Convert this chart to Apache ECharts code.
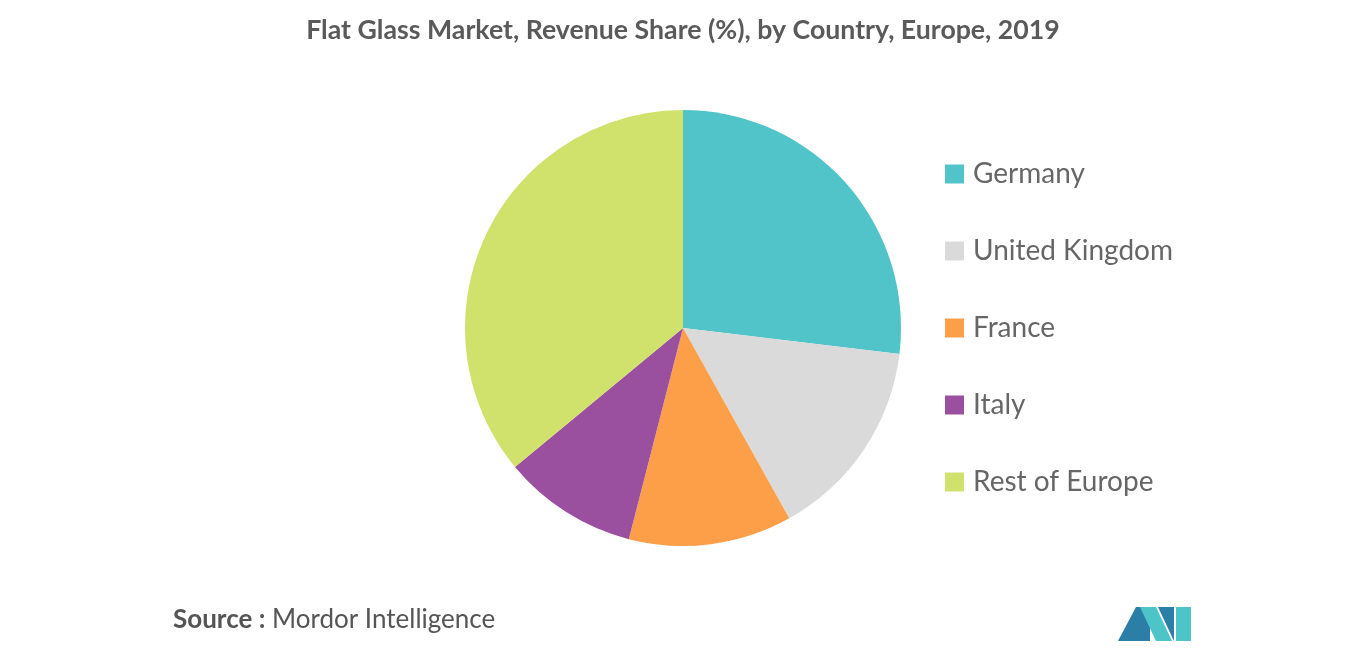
<!DOCTYPE html>
<html>
<head>
<meta charset="utf-8">
<script src="https://cdn.jsdelivr.net/npm/echarts@6/dist/echarts.min.js"></script>
<style>html,body{margin:0;padding:0;background:#fff}#container{width:1366px;height:655px}</style>
</head>
<body>
<div id="container"></div>
<script>
var countries = ["Germany", "United Kingdom", "France", "Italy", "Rest of Europe"];
var shares = [26.9, 15.0, 12.1, 10.0, 36.0];
var colors = ["#50c4c9", "#dadada", "#fc9f48", "#9b4f9f", "#d0e16c"];

var myChart = echarts.init(document.getElementById("container"));
var option = {
  animation: false,
  color: colors,
  title: {
    text: "Flat Glass Market, Revenue Share (%), by Country, Europe, 2019",
    left: "center", top: 12,
    textStyle: {fontFamily: "Lato", fontSize: 26.7, fontWeight: "bold", color: "#5a5a5a"}
  },
  legend: {
    orient: "vertical", left: 940, top: 155,
    itemWidth: 19, itemHeight: 19, itemGap: 49,
    icon: "rect",
    textStyle: {fontFamily: "Lato", fontSize: 28, color: "#666", padding: [0, 0, 0, 4]},
    data: countries
  },
  series: [{
    type: "pie",
    center: [683, 328], radius: 218,
    startAngle: 90, clockwise: true,
    label: {show: false}, labelLine: {show: false},
    itemStyle: {borderColor: "#fff", borderWidth: 0},
    data: countries.map(function (c, i) { return {name: c, value: shares[i]}; })
  }],
  graphic: [
    {type: "text", left: 173, top: 607, style: {
      text: "{b|Source :} Mordor Intelligence",
      rich: {b: {fontWeight: "bold", fontFamily: "Lato", fontSize: 26, fill: "#555"}},
      fontFamily: "Lato", fontSize: 26, fill: "#555"}},
    {type: "polygon", shape: {points: [[1118,641],[1136,607],[1150,607],[1150,641]]}, style: {fill: "#2b7fa6"}},
    {type: "polygon", shape: {points: [[1140,607],[1156,607],[1172,641],[1156,641]]}, style: {fill: "#4cc4c8"}},
    {type: "polygon", shape: {points: [[1158,607],[1174,607],[1174,641]]}, style: {fill: "#2b7fa6"}},
    {type: "polygon", shape: {points: [[1176,607],[1191,607],[1191,641],[1176,641]]}, style: {fill: "#4cc4c8"}}
  ]
};
myChart.setOption(option);
</script>
</body>
</html>
